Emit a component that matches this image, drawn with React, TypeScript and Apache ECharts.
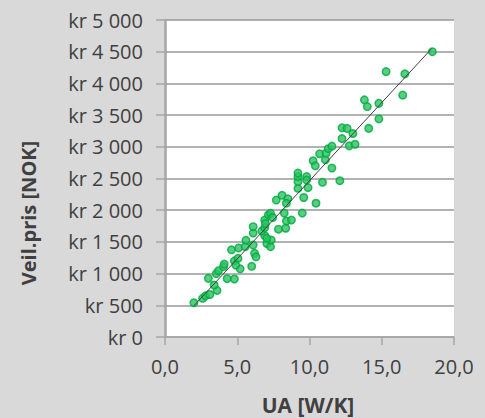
import React, { useEffect, useRef } from "react";
import * as echarts from "echarts";

// UA [W/K] vs Veil.pris [NOK]
const uaValues: number[] = [
  2.0, 2.6, 2.8, 3.1, 3.6, 3.4, 3.0, 3.55, 3.7, 4.05, 4.1, 4.3, 4.8, 5.2, 4.8, 5.05,
  4.6, 5.1, 5.55, 5.6, 6.1, 6.2, 6.3, 6.0, 6.1, 6.9, 7.05, 7.3, 7.35, 6.1, 6.7, 6.9,
  6.9, 6.95, 7.15, 7.3, 7.45, 7.85, 8.35, 8.4, 8.75, 8.25, 7.7, 8.1, 8.5, 8.4, 9.2,
  9.6, 9.5, 10.45, 9.9, 9.2, 9.2, 9.2, 9.8, 9.8, 10.9, 12.1, 10.25, 10.4, 10.7, 11.1,
  11.15, 11.3, 11.55, 11.55, 12.75, 13.15, 12.25, 12.25, 12.6, 13.0, 14.1, 13.8, 14.0,
  14.8, 14.8, 15.3, 16.6, 16.45, 18.5, 7.05, 4.9,
];
const priceValues: number[] = [
  540, 610, 650, 670, 735, 820, 925, 1000, 1045, 1110, 1150, 920, 915, 1075, 1200, 1240,
  1375, 1405, 1425, 1525, 1450, 1320, 1265, 1115, 1640, 1600, 1475, 1425, 1530, 1740, 1670, 1725,
  1845, 1790, 1925, 1950, 1885, 1700, 1715, 1830, 1845, 1955, 2160, 2235, 2180, 2110, 2345,
  2200, 1955, 2110, 2355, 2450, 2530, 2585, 2530, 2475, 2440, 2465, 2780, 2700, 2890, 2795,
  2900, 2970, 3010, 2665, 3015, 3040, 3130, 3300, 3290, 3210, 3290, 3740, 3635,
  3685, 3440, 4185, 4150, 3815, 4500, 1557, 1135,
];
// Linear trend line end points
const trendX: number[] = [2.0, 18.45];
const trendY: number[] = [493, 4548];

const xTicks = { min: 0, max: 20, interval: 5 };
const yTicks = { min: 0, max: 5000, interval: 500 };

const yTitle = "Veil.pris [NOK]";
const xTitle = "UA [W/K]";

const FONT = "'Open Sans', 'Liberation Sans', sans-serif";
const TEXT = "#404040";

function fmtKr(v: number): string {
  const s = Math.round(v).toString().replace(/\B(?=(\d{3})+(?!\d))/g, " ");
  return "kr " + s;
}

export default function App() {
  const ref = useRef<HTMLDivElement>(null);
  useEffect(() => {
    if (!ref.current) return;
    const chart = echarts.init(ref.current, null, { renderer: "svg" });
    const points = uaValues.map((x, i) => [x, priceValues[i]]);
    const trend = trendX.map((x, i) => [x, trendY[i]]);
    chart.setOption({
      animation: false,
      backgroundColor: "#d9d9d9",
      grid: {
        left: 165,
        right: 31,
        top: 20,
        bottom: 81,
        show: true,
        backgroundColor: "#ffffff",
        borderWidth: 0,
      },
      xAxis: {
        type: "value",
        min: xTicks.min,
        max: xTicks.max,
        interval: xTicks.interval,
        axisLine: { show: true, onZero: false, lineStyle: { color: "#a6a6a6", width: 1.5 } },
        axisTick: { show: true, length: 8, lineStyle: { color: "#a6a6a6", width: 1.5 } },
        splitLine: { show: false },
        axisLabel: {
          margin: 19,
          fontFamily: FONT,
          fontSize: 20,
          color: TEXT,
          formatter: (v: number) => v.toFixed(1).replace(".", ","),
        },
      },
      yAxis: {
        type: "value",
        min: yTicks.min,
        max: yTicks.max,
        interval: yTicks.interval,
        axisLine: { show: true, lineStyle: { color: "#a6a6a6", width: 2.5 } },
        axisTick: { show: true, length: 9, lineStyle: { color: "#a6a6a6", width: 1.5 } },
        splitLine: { show: true, lineStyle: { color: "#999999", width: 1.5 } },
        axisLabel: {
          margin: 22,
          fontFamily: FONT,
          fontSize: 20,
          color: TEXT,
          formatter: (v: number) => fmtKr(v),
        },
      },
      graphic: [
        {
          type: "text",
          x: 28,
          y: 213,
          rotation: Math.PI / 2,
          style: {
            text: yTitle,
            fontFamily: FONT,
            fontSize: 20,
            fontWeight: "bold",
            fill: TEXT,
            textAlign: "center",
            textVerticalAlign: "middle",
          },
        },
        {
          type: "text",
          x: 308,
          y: 405,
          style: {
            text: xTitle,
            fontFamily: FONT,
            fontSize: 21,
            fontWeight: "bold",
            fill: TEXT,
            textAlign: "center",
            textVerticalAlign: "middle",
          },
        },
      ],
      series: [
        {
          type: "line",
          data: trend,
          symbol: "none",
          lineStyle: { color: "#404040", width: 1 },
          z: 3,
        },
        {
          type: "scatter",
          data: points,
          symbolSize: 7.5,
          itemStyle: { color: "#2cc45e", borderColor: "#00a844", borderWidth: 1.5 },
          z: 2,
        },
      ],
    });
    return () => chart.dispose();
  }, []);
  return (
    <div
      ref={ref}
      style={{ position: "fixed", left: 0, top: 0, width: 485, height: 418 }}
    />
  );
}
